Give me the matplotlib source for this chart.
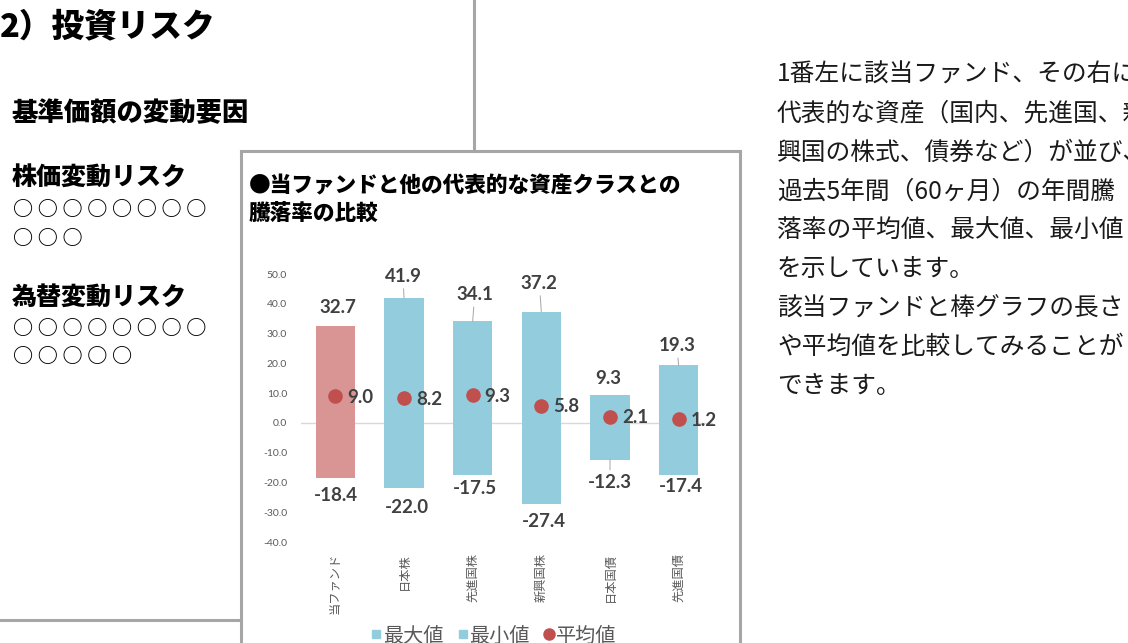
import matplotlib.pyplot as plt
from matplotlib.lines import Line2D

# data
categories = ['当ファンド', '日本株', '先進国株', '新興国株', '日本国債', '先進国債']
max_values = [32.7, 41.9, 34.1, 37.2, 9.3, 19.3]
min_values = [-18.4, -22.0, -17.5, -27.4, -12.3, -17.4]
avg_values = [9.0, 8.2, 9.3, 5.8, 2.1, 1.2]

right_lines = [
    '1番左に該当ファンド、その右には',
    '代表的な資産（国内、先進国、新',
    '興国の株式、債券など）が並び、',
    '過去5年間（60ヶ月）の年間騰',
    '落率の平均値、最大値、最小値',
    'を示しています。',
    '該当ファンドと棒グラフの長さ',
    'や平均値を比較してみることが',
    'できます。',
]

W, H = 1128, 643
JP = ['Noto Sans CJK JP', 'DejaVu Sans']
NUM = ['Lato', 'DejaVu Sans']
PINK = '#d99594'
BLUE = '#93cddd'
RED = '#c0504d'
GRAY_TXT = '#595959'
LABEL_TXT = '#404040'
FRAME = '#a6a6a6'

plt.rcParams['font.family'] = JP

fig = plt.figure(figsize=(W / 100, H / 100), dpi=100)


def px(x, y):
    return x / W, 1 - y / H


def ftext(x, y, s, **kw):
    fig.text(*px(x, y), s, **kw)


def fline(x0, y0, x1, y1):
    fig.add_artist(Line2D([x0 / W, x1 / W], [1 - y0 / H, 1 - y1 / H],
                          transform=fig.transFigure, color=FRAME, lw=2.2))


# left panel
ftext(0, 27, '2）投資リスク', fontsize=23.5, fontweight='black', va='center')
ftext(12, 113, '基準価額の変動要因', fontsize=19, fontweight='black', va='center')
ftext(12, 177, '株価変動リスク', fontsize=18, fontweight='black', va='center')
ftext(12, 297, '為替変動リスク', fontsize=18, fontweight='black', va='center')
circ = dict(fontsize=14.5, va='center', fontweight='bold')
ftext(13, 208, ' '.join('○' * 8), **circ)
ftext(13, 237, ' '.join('○' * 3), **circ)
ftext(13, 327, ' '.join('○' * 8), **circ)
ftext(13, 356, ' '.join('○' * 5), **circ)

# frames
fline(474, 0, 474, 151)
fline(0, 620, 241, 620)
fline(241, 151, 740, 151)
fline(241, 151, 241, 650)
fline(740, 151, 740, 650)

# right text
for i, line in enumerate(right_lines):
    ftext(777, 75 + i * 38.9, line, fontsize=17.8, va='center', color='#1a1a1a')

# chart title
ftext(249, 186, '●当ファンドと他の代表的な資産クラスとの', fontsize=15.6,
      fontweight='black', va='center')
ftext(249, 214, '騰落率の比較', fontsize=15.6, fontweight='black', va='center')

# chart
ax = fig.add_axes([301 / W, (H - 542) / H, 412 / W, 268 / H])
x = list(range(len(categories)))
colors = [PINK] + [BLUE] * (len(categories) - 1)
ax.axhline(0, color='#d9d9d9', lw=1, zorder=1)
ax.bar(x, max_values, width=0.57, color=colors, zorder=2)
ax.bar(x, min_values, width=0.57, color=colors, zorder=2)
ax.plot(x, avg_values, 'o', color=RED, markersize=9.5, ls='none', zorder=3)

ax.set_xlim(-0.5, len(categories) - 0.5)
ax.set_ylim(-40, 50)
ax.set_yticks(range(-40, 51, 10))
ax.set_yticklabels([f'{v:.1f}' for v in range(-40, 51, 10)], fontsize=7.5,
                   color=GRAY_TXT, family=NUM)
ax.set_xticks(x)
ax.set_xticklabels(categories, rotation=90, fontsize=8.8, color=GRAY_TXT)
ax.tick_params(length=0)
ax.tick_params(axis='y', pad=10)
ax.tick_params(axis='x', pad=8)
for s in ax.spines.values():
    s.set_visible(False)

# label offsets in pixels (dx, dy) and whether a leader line is drawn
max_off = [(3, 18, False), (-1, 22, True), (2, 27, True), (-2, 29, True),
           (-2, 17, False), (-2, 20, True)]
min_off = [(1, -18, False), (3, -19, False), (2, -14, False), (3, -17, False),
           (0, -23, True), (2, -12, False)]

lbl = dict(fontsize=13.5, fontweight='bold', color=LABEL_TXT, family=NUM,
           textcoords='offset pixels', ha='center', va='center', zorder=4)
lead = dict(arrowstyle='-', color='#a6a6a6', lw=0.7, shrinkA=1, shrinkB=0)
for i in x:
    dx, dy, has_lead = max_off[i]
    ax.annotate(f'{max_values[i]:.1f}', (i, max_values[i]), xytext=(dx, dy),
                arrowprops=lead if has_lead else None, **lbl)
    dx, dy, has_lead = min_off[i]
    ax.annotate(f'{min_values[i]:.1f}', (i, min_values[i]), xytext=(dx, dy),
                arrowprops=lead if has_lead else None, **lbl)
    ax.annotate(f'{avg_values[i]:.1f}', (i, avg_values[i]), xytext=(25, -1),
                **lbl)

handles = [
    Line2D([], [], marker='s', ls='none', color=BLUE, markersize=6),
    Line2D([], [], marker='s', ls='none', color=BLUE, markersize=6),
    Line2D([], [], marker='o', ls='none', color=RED, markersize=8),
]
fig.legend(handles, ['最大値', '最小値', '平均値'], loc='center',
           bbox_to_anchor=px(494, 636), ncol=3, frameon=False, fontsize=14.5,
           labelcolor=GRAY_TXT, handlelength=0.45, handletextpad=0.1,
           columnspacing=0.75, borderpad=0)

fig.savefig('out.png', dpi=100)
